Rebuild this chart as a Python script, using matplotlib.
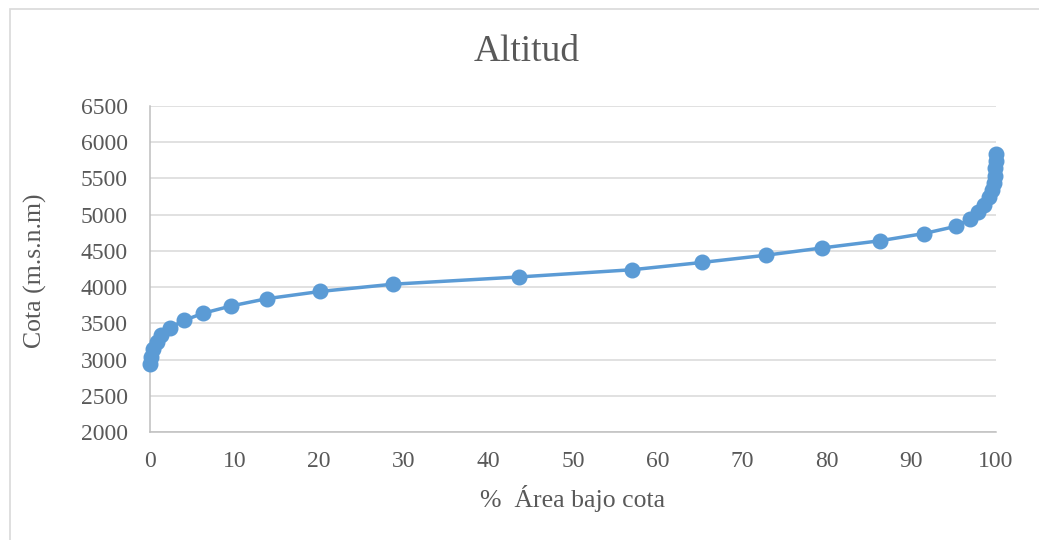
import matplotlib
matplotlib.use("Agg")
import matplotlib.pyplot as plt
from matplotlib.patches import Rectangle

# Hypsometric curve: percentage of area below each elevation
area_pct = [0.0, 0.15, 0.4, 0.8, 1.3, 2.4, 4.0, 6.3, 9.6, 13.8, 20.1, 28.7,
            43.6, 57.0, 65.2, 72.8, 79.4, 86.3, 91.5, 95.3, 96.9, 97.9,
            98.6, 99.2, 99.5, 99.75, 99.88, 99.94, 99.97, 100.0]
cota = [2940, 3040, 3140, 3240, 3340, 3440, 3540, 3640, 3740, 3840, 3940, 4040,
        4140, 4240, 4340, 4440, 4540, 4640, 4740, 4840, 4940, 5040,
        5140, 5240, 5340, 5440, 5540, 5640, 5740, 5840]

x_ticks = [0, 10, 20, 30, 40, 50, 60, 70, 80, 90, 100]
y_ticks = [2000, 2500, 3000, 3500, 4000, 4500, 5000, 5500, 6000, 6500]

plt.rcParams['font.family'] = ['Liberation Serif', 'DejaVu Serif']
text_color = '#595959'
line_color = '#5B9BD5'

fig = plt.figure(figsize=(10.39, 5.40), dpi=100)
fig.patches.append(Rectangle((10 / 1039, -0.01), 1.02, (540 - 9) / 540 + 0.01,
                             transform=fig.transFigure, fill=False,
                             edgecolor='#D9D9D9', linewidth=1.2))

ax = fig.add_axes([150 / 1039, 1 - 432 / 540, (996 - 150) / 1039, (432 - 106) / 540])
ax.plot(area_pct, cota, color=line_color, linewidth=2.5, marker='o',
        markersize=10.5, markerfacecolor=line_color, markeredgecolor=line_color,
        zorder=3, clip_on=False)

ax.set_xlim(0, 100)
ax.set_ylim(2000, 6500)
ax.set_xticks(x_ticks)
ax.set_yticks(y_ticks)
ax.tick_params(length=0, labelsize=17, labelcolor=text_color)
ax.tick_params(axis='x', pad=14)
ax.tick_params(axis='y', pad=16)
ax.grid(axis='y', color='#D9D9D9', linewidth=1.1)
ax.set_axisbelow(True)
for s in ['top', 'right']:
    ax.spines[s].set_visible(False)
for s in ['left', 'bottom']:
    ax.spines[s].set_color('#BFBFBF')
    ax.spines[s].set_linewidth(1.1)

fig.text(527 / 1039, 1 - 52 / 540, 'Altitud', ha='center', va='center',
         fontsize=27, color=text_color)
fig.text(573 / 1039, 1 - 499 / 540, '%  Área bajo cota', ha='center', va='center',
         fontsize=18.5, color=text_color)
fig.text(35 / 1039, 1 - 271 / 540, 'Cota (m.s.n.m)', ha='center', va='center',
         rotation=90, fontsize=18.5, color=text_color)

fig.savefig('out.png', dpi=100, facecolor='white')
